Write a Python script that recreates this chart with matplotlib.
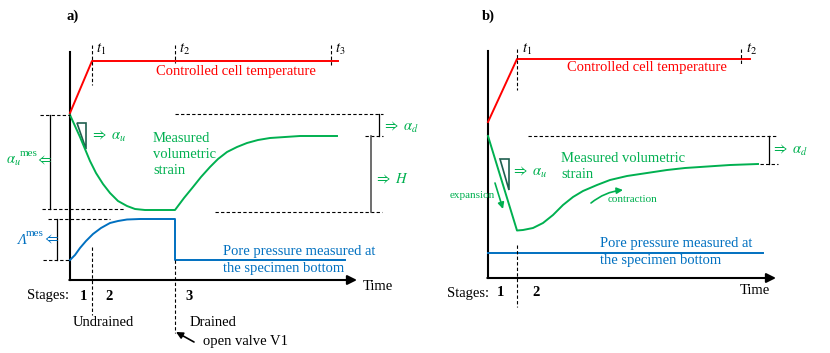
import matplotlib.pyplot as plt

plt.rcParams['font.family'] = ['Liberation Serif', 'DejaVu Serif']
plt.rcParams['mathtext.fontset'] = 'stix'

RED = '#ff0000'
GREEN = '#00b050'
BLUE = '#0070c0'
DARK = '#1f5f4f'

# ---------------- panel a) : values (pixels) ----------
temp_a_x = [70, 92, 338]
temp_a_y = [113, 61, 61]

strain_a_x = [70, 75, 80, 85, 90, 96, 103, 110, 118, 127, 135, 145, 175,
              184, 193, 201, 210, 218, 227, 237, 247, 258, 270, 285, 300, 337]
strain_a_y = [115, 126, 137, 149, 161, 173, 184, 193, 201, 206, 209, 210, 210,
              198, 187, 177, 167, 159, 152, 147, 143, 140, 138, 137, 136, 136]

pore_a_x = [70, 75, 80, 86, 93, 101, 110, 118, 127, 140, 175, 175, 345]
pore_a_y = [260, 255, 248, 241, 234, 228, 223, 221, 219.5, 219, 219, 260, 260]

ticks_a = ['$t_1$', '$t_2$', '$t_3$']
ticks_a_x = [92, 175, 331]
stages_a = ['1', '2', '3']
stages_a_x = [83, 109, 189]

# ---------------- panel b) ----------------
temp_b_x = [488, 517, 750]
temp_b_y = [122, 59, 59]

strain_b_x = [488, 517, 523, 533, 543, 553, 563, 573, 583, 597, 610, 627, 647,
              667, 685, 700, 730, 758]
strain_b_y = [136, 230.5, 230, 228, 223, 215, 205, 197, 191, 185, 180, 176, 173,
              170, 168, 167, 165, 164]

pore_b_x = [488, 763]
pore_b_y = [253, 253]

ticks_b = ['$t_1$', '$t_2$']
ticks_b_x = [517, 741]
stages_b = ['1', '2']
stages_b_x = [500, 536]

fig = plt.figure(figsize=(8.3, 3.53), dpi=100)
ax = fig.add_axes([0, 0, 1, 1])
ax.set_xlim(0, 830)
ax.set_ylim(353, 0)
ax.axis('off')

fs = 10.5
dash = dict(color='black', lw=0.8, ls=(0, (3, 2)))


def axes_frame(x0, ytop, ybot, xend):
    ax.plot([x0, x0], [ytop, ybot], color='black', lw=1.5)
    ax.annotate('', xy=(xend, ybot), xytext=(x0 - 0.7, ybot),
                arrowprops=dict(arrowstyle='-|>', color='black', lw=1.5,
                                mutation_scale=14, shrinkA=0, shrinkB=0))


# ===================== a) =====================
ax.text(66, 16, 'a)', fontsize=fs, fontweight='bold', va='center')
axes_frame(70, 52, 280, 357)

ax.plot(temp_a_x, temp_a_y, color=RED, lw=1.4)
ax.plot([92, 92], [45, 85], **dash)
ax.plot([175, 175], [45, 63], **dash)
ax.plot([331, 331], [45, 65], **dash)
for lab, x in zip(ticks_a, ticks_a_x):
    ax.text(x + 4, 49, lab, fontsize=fs, va='center')
ax.text(236, 71, 'Controlled cell temperature', color=RED, fontsize=fs,
        ha='center', va='center')

ax.plot(strain_a_x, strain_a_y, color=GREEN, lw=1.4)
ax.plot(pore_a_x, pore_a_y, color=BLUE, lw=1.4)

# guide lines
ax.plot([40, 70], [115, 115], **dash)
ax.plot([175, 383], [114, 114], **dash)
ax.plot([365, 383], [136, 136], **dash)
ax.plot([42, 125], [209, 209], **dash)
ax.plot([215, 382], [212, 212], **dash)
ax.plot([48, 110], [219, 219], **dash)
ax.plot([43, 70], [260, 260], **dash)
ax.plot([50, 50], [115, 209], color='black', lw=0.9)
ax.plot([57, 57], [219, 260], color='black', lw=0.9)
ax.plot([379, 379], [114, 136], color='black', lw=0.9)
ax.plot([371, 371], [136, 212], color='#555555', lw=1.2)

ax.fill([77, 86, 86, 77], [123, 123, 149, 123], fill=False, edgecolor=DARK, lw=1.2)
ax.text(90, 136, r'$\Rightarrow\ \alpha_u$', color=GREEN, fontsize=fs, va='center')
ax.text(6, 161, r'$\alpha_u$', color=GREEN, fontsize=fs, va='center')
ax.text(20, 154, 'mes', color=GREEN, fontsize=8, va='center')
ax.text(35, 160, r'$\Leftarrow$', color=GREEN, fontsize=fs, va='center')
ax.text(17, 240, 'Λ', color=BLUE, fontsize=fs, style='italic', va='center')
ax.text(26, 234, 'mes', color=BLUE, fontsize=8, va='center')
ax.text(42, 239, r'$\Leftarrow$', color=BLUE, fontsize=fs, va='center')
ax.text(382, 127, r'$\Rightarrow\ \alpha_d$', color=GREEN, fontsize=fs, va='center')
ax.text(374, 179, r'$\Rightarrow\ H$', color=GREEN, fontsize=fs, va='center')
ax.text(153, 154, 'Measured\nvolumetric\nstrain', color=GREEN, fontsize=fs,
        va='center', ha='left', linespacing=1.3)
ax.text(223, 260, 'Pore pressure measured at\nthe specimen bottom', color=BLUE,
        fontsize=fs, va='center', ha='left', linespacing=1.35)

ax.text(363, 287, 'Time', fontsize=fs, va='center')
ax.text(27, 296, 'Stages:', fontsize=fs, va='center')
for lab, x in zip(stages_a, stages_a_x):
    ax.text(x, 296, lab, fontsize=fs, fontweight='bold', ha='center', va='center')
ax.plot([92, 92], [247, 315], **dash)
ax.plot([175, 175], [260, 333], **dash)
ax.text(73, 323, 'Undrained', fontsize=fs, va='center')
ax.text(190, 323, 'Drained', fontsize=fs, va='center')
ax.text(203, 342, 'open valve V1', fontsize=fs, va='center')
ax.annotate('', xy=(176, 332), xytext=(194, 342),
            arrowprops=dict(arrowstyle='-|>', color='black', lw=1.2,
                            mutation_scale=10, shrinkA=0, shrinkB=0))

# ===================== b) =====================
ax.text(482, 16, 'b)', fontsize=fs, fontweight='bold', va='center')
axes_frame(488, 51, 278, 776)

ax.plot(temp_b_x, temp_b_y, color=RED, lw=1.4)
ax.plot([517, 517], [49, 90], **dash)
ax.plot([741, 741], [49, 65], **dash)
for lab, x in zip(ticks_b, ticks_b_x):
    ax.text(x + 5, 49, lab, fontsize=fs, va='center')
ax.text(647, 68, 'Controlled cell temperature', color=RED, fontsize=fs,
        ha='center', va='center')

ax.plot(strain_b_x, strain_b_y, color=GREEN, lw=1.4)
ax.plot(pore_b_x, pore_b_y, color=BLUE, lw=1.4)

ax.plot([528, 778], [136, 136], **dash)
ax.plot([760, 778], [164, 164], **dash)
ax.plot([769, 769], [136, 164], color='black', lw=0.9)
ax.text(771, 150, r'$\Rightarrow\ \alpha_d$', color=GREEN, fontsize=fs, va='center')

ax.fill([500, 509, 509, 500], [159, 159, 190, 159], fill=False, edgecolor=DARK, lw=1.2)
ax.text(511, 172, r'$\Rightarrow\ \alpha_u$', color=GREEN, fontsize=fs, va='center')
ax.text(561, 166, 'Measured volumetric\nstrain', color=GREEN, fontsize=fs,
        va='center', ha='left', linespacing=1.3)

ax.annotate('', xy=(503, 209), xytext=(495, 183),
            arrowprops=dict(arrowstyle='-|>', color=GREEN, lw=1.2,
                            mutation_scale=9, shrinkA=0, shrinkB=0))
ax.text(472, 196, 'expansion', color=GREEN, fontsize=8, ha='center', va='center')
ax.annotate('', xy=(623, 190), xytext=(591, 203),
            arrowprops=dict(arrowstyle='-|>', color=GREEN, lw=1.2,
                            mutation_scale=9, shrinkA=0, shrinkB=0,
                            connectionstyle='arc3,rad=-0.15'))
ax.text(608, 200, 'contraction', color=GREEN, fontsize=8, ha='left', va='center')

ax.text(600, 252, 'Pore pressure measured at\nthe specimen bottom', color=BLUE,
        fontsize=fs, va='center', ha='left', linespacing=1.35)

ax.text(740, 291, 'Time', fontsize=fs, va='center')
ax.text(447, 293, 'Stages:', fontsize=fs, va='center')
for lab, x in zip(stages_b, stages_b_x):
    ax.text(x, 293, lab, fontsize=fs, fontweight='bold', ha='center', va='center')
ax.plot([517, 517], [245, 307], **dash)

fig.savefig('out.png', dpi=100)
